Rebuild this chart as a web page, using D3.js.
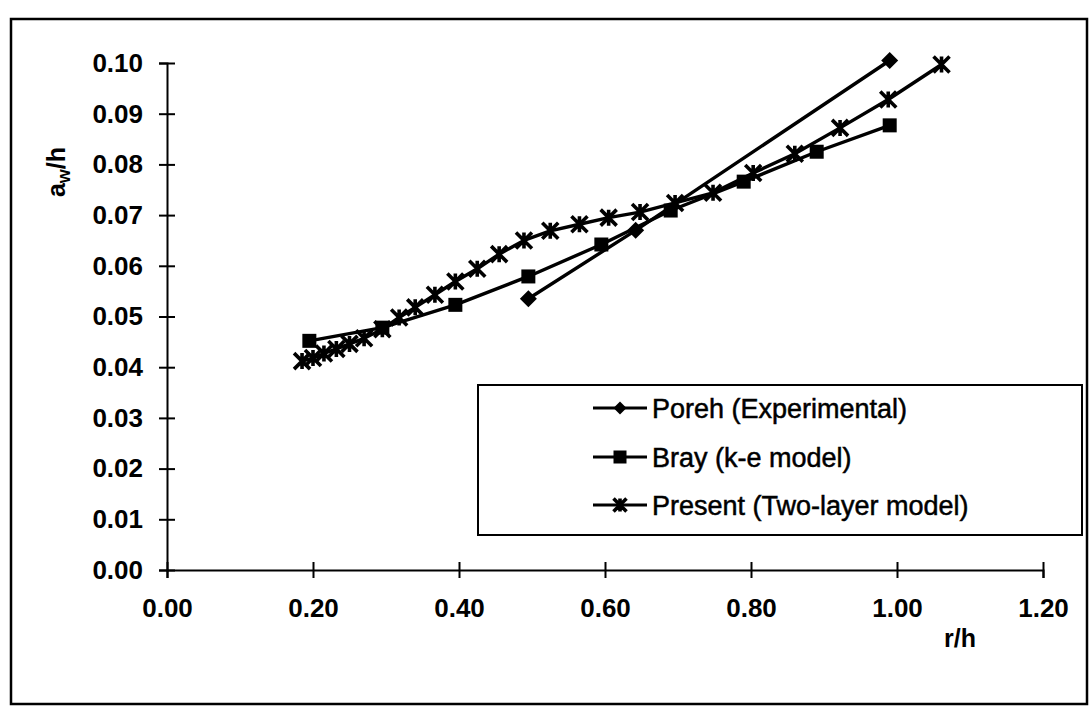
<!DOCTYPE html>
<html>
<head>
<meta charset="utf-8">
<script src="https://cdn.jsdelivr.net/npm/d3@7"></script>
<style>
  body{margin:0;background:#fff}
  svg{display:block}
  text{font-family:"Liberation Sans",Arial,sans-serif;fill:#000}
</style>
</head>
<body>
<svg id="chart" width="1090" height="708"></svg>
<script>
// data
const xTicks = [0, 0.2, 0.4, 0.6, 0.8, 1.0, 1.2]
const yTicks = [0, 0.01, 0.02, 0.03, 0.04, 0.05, 0.06, 0.07, 0.08, 0.09, 0.10]

const porehX = [0.495, 0.642, 0.99]
const porehY = [0.0535, 0.0670, 0.1005]

const brayX = [0.195, 0.295, 0.395, 0.495, 0.595, 0.69, 0.79, 0.89, 0.99]
const brayY = [0.0452, 0.0478, 0.0523, 0.0579, 0.0642, 0.0709, 0.0766, 0.0825, 0.0877]

const presentX = [0.185, 0.20, 0.215, 0.232, 0.25, 0.27, 0.295, 0.318, 0.34, 0.367, 0.395, 0.425,
  0.455, 0.489, 0.525, 0.565, 0.605, 0.648, 0.696, 0.748, 0.803, 0.860, 0.922, 0.988, 1.061]
const presentY = [0.0412, 0.0418, 0.0427, 0.0436, 0.0446, 0.0457, 0.0475, 0.0498, 0.0518, 0.0543, 0.0569, 0.0594,
  0.0623, 0.0650, 0.0669, 0.0682, 0.0695, 0.0706, 0.0724, 0.0744, 0.0783, 0.0821, 0.0872, 0.0928, 0.0997]

const seriesNames = ["Poreh (Experimental)", "Bray (k-e model)", "Present (Two-layer model)"]

const svg = d3.select("#chart")
let x = d3.scaleLinear().domain([0, 1.2]).range([167, 1043])
let y = d3.scaleLinear().domain([0, 0.1]).range([570, 63])

//outer frame
svg.append("rect").attr("x", 11).attr("y", 19).attr("width", 1076).attr("height", 685)
  .attr("fill", "none").attr("stroke", "#000").attr("stroke-width", 2.5)

//axes
let xAxis = svg.append("g").attr("transform", `translate(0,${y(0)})`)
  .call(d3.axisBottom(x).tickValues(xTicks).tickFormat(d3.format(".2f")).tickSizeOuter(0).tickSize(8).tickPadding(21))
let yAxis = svg.append("g").attr("transform", `translate(${x(0)},0)`)
  .call(d3.axisLeft(y).tickValues(yTicks).tickFormat(d3.format(".2f")).tickSizeOuter(0).tickSize(8).tickPadding(16))

xAxis.selectAll(".tick line").attr("y1", -8).attr("y2", 8)
yAxis.selectAll(".tick line").attr("x1", -8).attr("x2", 8)
for (let ax of [xAxis, yAxis]) {
  ax.select(".domain").attr("stroke", "#000").attr("stroke-width", 2)
  ax.selectAll(".tick line").attr("stroke", "#000").attr("stroke-width", 2)
  ax.selectAll(".tick text").style("font-size", "26px").style("font-weight", "bold")
    .style("font-family", '"Liberation Sans",Arial,sans-serif')
}

//axis titles
svg.append("text").attr("x", 960).attr("y", 647).attr("text-anchor", "middle")
  .style("font-size", "25px").style("font-weight", "bold").text("r/h")
let yt = svg.append("text").attr("transform", "translate(65,172) rotate(-90)")
  .attr("text-anchor", "middle").style("font-size", "25px").style("font-weight", "bold")
yt.append("tspan").text("a")
yt.append("tspan").attr("baseline-shift", "-25%").style("font-size", "18px").text("w")
yt.append("tspan").text("/h")

//markers
function drawMarker(g, type, s) {
  if (type === "diamond") {
    g.append("path").attr("d", `M0,${-s}L${s},0L0,${s}L${-s},0Z`).attr("fill", "#000")
  } else if (type === "square") {
    g.append("rect").attr("x", -s).attr("y", -s).attr("width", 2 * s).attr("height", 2 * s).attr("fill", "#000")
  } else {
    g.append("path").attr("d", `M${-s},${-s}L${s},${s}M${-s},${s}L${s},${-s}M0,${-s}L0,${s}`)
      .attr("stroke", "#000").attr("stroke-width", 3.6).attr("fill", "none")
  }
}

const series = [
  {xs: porehX, ys: porehY, marker: "diamond", size: 8.5},
  {xs: brayX, ys: brayY, marker: "square", size: 7},
  {xs: presentX, ys: presentY, marker: "star", size: 8}
]
let line = d3.line().x(d => x(d[0])).y(d => y(d[1]))
series.forEach(s => {
  let pts = s.xs.map((v, i) => [v, s.ys[i]])
  svg.append("path").datum(pts).attr("d", line)
    .attr("fill", "none").attr("stroke", "#000").attr("stroke-width", 3.4).attr("stroke-linejoin", "round")
  pts.forEach(p => {
    let g = svg.append("g").attr("transform", `translate(${x(p[0])},${y(p[1])})`)
    drawMarker(g, s.marker, s.size)
  })
})

//legend
svg.append("rect").attr("x", 478).attr("y", 385).attr("width", 604).attr("height", 150)
  .attr("fill", "#fff").attr("stroke", "#000").attr("stroke-width", 2)
const legendRows = [408, 457, 505]
seriesNames.forEach((name, i) => {
  let ly = legendRows[i]
  svg.append("line").attr("x1", 593).attr("x2", 647).attr("y1", ly).attr("y2", ly)
    .attr("stroke", "#000").attr("stroke-width", 3)
  let g = svg.append("g").attr("transform", `translate(620,${ly})`)
  drawMarker(g, series[i].marker, 6.5)
  svg.append("text").attr("x", 652).attr("y", ly).attr("dy", "0.36em")
    .style("font-size", "27px").style("stroke", "#000").style("stroke-width", 0.5).text(name)
})
</script>
</body>
</html>
